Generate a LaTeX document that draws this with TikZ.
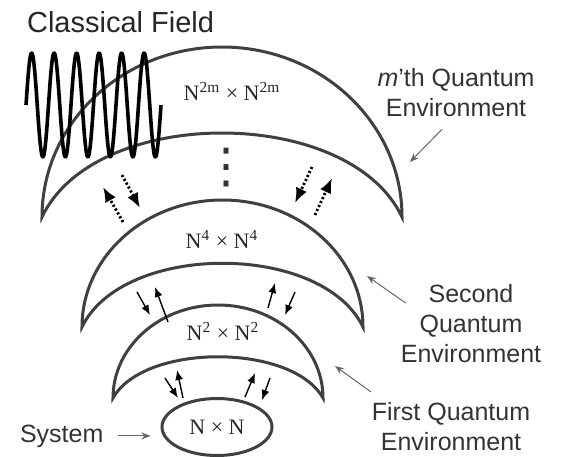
\documentclass[tikz,border=0pt]{standalone}
\usepackage{fontspec}
\setmainfont{Liberation Sans}
\newfontfamily\dimfont{Liberation Serif}
\newfontfamily\symfont{DejaVu Sans}
\usetikzlibrary{arrows.meta,shapes.geometric}

\begin{document}
\begin{tikzpicture}[x=0.5pt,y=-0.5pt,
    shell/.style={draw=black!75,line width=1.5pt},
    tag/.style={text=black!80,align=center,font=\fontsize{12.5}{15}\selectfont},
    dim/.style={text=black!85,font=\dimfont\fontsize{11}{13}\selectfont},
    pointer/.style={draw=black!60,line width=0.5pt,-{Stealth[length=4.5pt,width=3.5pt]}},
    swap/.style={line width=0.7pt,-{Latex[length=5pt,width=4pt]}},
    swapdot/.style={line width=1.4pt,dash pattern=on 1.1pt off 1.1pt,-{Latex[length=7.5pt,width=6pt]}}]
  \useasboundingbox (0,0) rectangle (561,456);

  % the three shells, outer arc then inner arc
  \draw[shell] (42,217) arc[start angle=180,end angle=360,x radius=180,y radius=170]
    .. controls (349,105) and (95,105) .. (42,217) -- cycle;
  \draw[shell] (82,327) arc[start angle=180,end angle=360,x radius=140.5,y radius=127]
    .. controls (322,242) and (123,242) .. (82,327) -- cycle;
  \draw[shell] (113,398) arc[start angle=180,end angle=360,x radius=105,y radius=93]
    .. controls (292,343) and (144,343) .. (113,398) -- cycle;
  \node[shell,ellipse,minimum width=55pt,minimum height=28.5pt,inner sep=0pt,dim] (core) at (217,427) {N × N};

  % classical field
  \draw[line width=1.8pt,line join=round] plot[domain=0:6,samples=300] ({26+22.5*\x},{105-52*sin(\x*360)});
  \node[anchor=base west,text=black!85,font=\fontsize{14.5}{17}\selectfont] (field) at (20,32) {Classical Field};

  \node[dim] (n2m) at (232,91) {N\textsuperscript{2m} × N\textsuperscript{2m}};
  \node[dim] (n4) at (222,239) {N\textsuperscript{4} × N\textsuperscript{4}};
  \node[dim] (n2) at (223,331) {N\textsuperscript{2} × N\textsuperscript{2}};
  \node[text=black!80,font=\symfont\fontsize{24}{24}\selectfont,inner sep=0pt] (vdots) at (226,168) {⋮};

  % exchange arrows
  \foreach \a/\b/\c/\d in {122/175/140/208,123/222/103/187,312/167/295/203,315/215/332/178}
    \draw[swapdot] (\a,\b) -- (\c,\d);
  \foreach \a/\b/\c/\d in {137/292/150/315,168/322/155/287,268/308/275/283,295/292/285/315,
      165/378/178/398,183/398/177/370,245/397/255/373,270/378/262/400}
    \draw[swap] (\a,\b) -- (\c,\d);

  % labels
  \node[tag] (mth) at (456,93) {\textit{m}’th Quantum\\Environment};
  \node[tag] (second) at (471,324) {Second\\Quantum\\Environment};
  \node[tag] (first) at (451,427) {First Quantum\\Environment};
  \node[tag,anchor=base west] (system) at (13,442) {System};

  \coordinate (mthtip) at (410,162);
  \coordinate (secondtip) at (367,276);
  \coordinate (firsttip) at (335,366);
  \draw[pointer] ([shift={(-14,5)}]mth.south) -- (mthtip);
  \draw[pointer] ([shift={(12,-21)}]second.west) -- (secondtip);
  \draw[pointer] ([shift={(6,-4)}]first.north west) -- (firsttip);
  \draw[pointer,shorten >=5pt] ([xshift=4pt]system.east) -- (system.east -| core.west);
\end{tikzpicture}
\end{document}
